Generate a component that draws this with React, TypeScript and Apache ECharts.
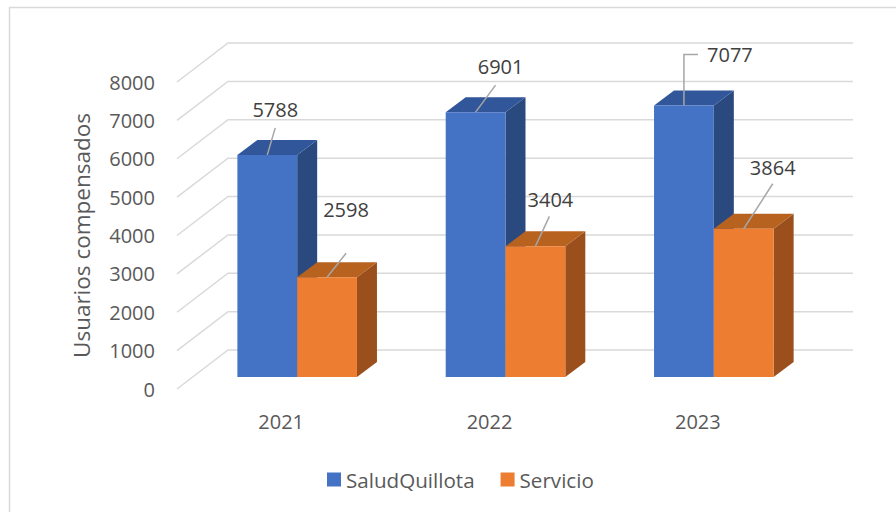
import React, { useEffect, useRef } from "react";
import * as echarts from "echarts";

const categories = ["2021", "2022", "2023"];
const seriesNames = ["SaludQuillota", "Servicio"];
const saludQuillota = [5788, 6901, 7077];
const servicio = [2598, 3404, 3864];
const yTicks = [0, 1000, 2000, 3000, 4000, 5000, 6000, 7000, 8000];

// layout: label centre offsets and leader line points relative to bar front-top centre
const labelLayout = [
  [
    { label: [8, -45], line: [[0, 0], [8, -27]] },
    { label: [25, -46], line: [[0, 0], [20, -27]] },
    { label: [46, -51], line: [[0, 0], [0, -51], [14, -51]] },
  ],
  [
    { label: [19, -68], line: [[0, 0], [19, -24]] },
    { label: [15, -47], line: [[0, 0], [14, -30]] },
    { label: [29, -61], line: [[0, 0], [29, -45]] },
  ],
];

const FONT = "'Open Sans', 'Noto Sans', sans-serif";
const AXIS_TEXT = "#595959";
const GRID = "#D9D9D9";
// 3D geometry
const WALL_DX = 51, WALL_DY = -39; // front plane -> back wall
const BAR_FX = 16, BAR_FY = -12; // front plane -> bar front face
const BAR_DX = 20, BAR_DY = -15; // bar depth
const BAR_FRAC = 0.287;

const faceColors = [
  { front: "#4472C4", top: "#31569A", side: "#2A4A7F" },
  { front: "#ED7D31", top: "#B8621F", side: "#9A4F1C" },
];

function makeBarSeries(si: number, values: number[]) {
  return {
    type: "custom",
    name: seriesNames[si],
    itemStyle: { color: faceColors[si].front },
    data: values.map((v, i) => [i, v]),
    z: 3 + si,
    renderItem: (params: any, api: any) => {
      const ci = api.value(0);
      const v = api.value(1);
      const p0 = api.coord([ci, 0]);
      const p1 = api.coord([ci, v]);
      const catW = api.size([1, 0])[0];
      const bw = catW * BAR_FRAC;
      const cx = p0[0];
      const xL = cx + BAR_FX + (si === 0 ? -bw : 0);
      const xR = xL + bw;
      const yb = p0[1] + BAR_FY;
      const yt = p1[1] + BAR_FY;
      const c = faceColors[si];
      const lay = labelLayout[si][params.dataIndex];
      const ax = (xL + xR) / 2;
      const ay = yt;
      return {
        type: "group",
        children: [
          {
            type: "polygon",
            shape: { points: [[xR, yt], [xR + BAR_DX, yt + BAR_DY], [xR + BAR_DX, yb + BAR_DY], [xR, yb]] },
            style: { fill: c.side },
          },
          {
            type: "polygon",
            shape: { points: [[xL, yt], [xL + BAR_DX, yt + BAR_DY], [xR + BAR_DX, yt + BAR_DY], [xR, yt]] },
            style: { fill: c.top },
          },
          {
            type: "polygon",
            shape: { points: [[xL, yt], [xR, yt], [xR, yb], [xL, yb]] },
            style: { fill: c.front },
          },
          {
            type: "polyline",
            shape: { points: lay.line.map((p) => [ax + p[0], ay + p[1]]) },
            style: { stroke: "#A6A6A6", lineWidth: 1.5, fill: null },
            z2: 10,
          },
          {
            type: "text",
            style: {
              text: String(v),
              x: ax + lay.label[0],
              y: ay + lay.label[1],
              textAlign: "center",
              textVerticalAlign: "middle",
              fontSize: 20,
              fontFamily: FONT,
              fill: "#404040",
            },
            z2: 10,
          },
        ],
      };
    },
  };
}

export default function App() {
  const ref = useRef<HTMLDivElement>(null);
  useEffect(() => {
    document.body.style.margin = "0";
    const chart = echarts.init(ref.current as HTMLDivElement, null, { renderer: "svg" });
    chart.setOption({
      animation: false,
      backgroundColor: "#ffffff",
      graphic: [
        {
          type: "rect",
          shape: { x: 9.5, y: 7.5, width: 1000, height: 1000 },
          style: { fill: null, stroke: GRID, lineWidth: 1.5 },
          silent: true,
          z: -10,
        },
      ],
      grid: { left: 177, right: 94, top: 82, bottom: 123 },
      legend: {
        data: seriesNames,
        left: 327,
        top: 469,
        padding: 0,
        itemWidth: 14,
        itemHeight: 14,
        itemGap: 26,
        icon: "rect",
        textStyle: { fontSize: 20.6, fontFamily: FONT, color: AXIS_TEXT },
      },
      xAxis: {
        type: "category",
        data: categories,
        axisLine: { show: false },
        axisTick: { show: false },
        axisLabel: { margin: 22, fontSize: 20, fontFamily: FONT, color: AXIS_TEXT },
      },
      yAxis: {
        type: "value",
        min: 0,
        max: 8000,
        interval: 1000,
        name: "Usuarios compensados",
        nameLocation: "middle",
        nameGap: 84,
        nameTextStyle: { fontSize: 22.5, fontFamily: FONT, color: AXIS_TEXT },
        axisLine: { show: false },
        axisTick: { show: false },
        splitLine: { show: false },
        axisLabel: {
          margin: 22,
          fontSize: 20,
          fontFamily: FONT,
          color: AXIS_TEXT,
          formatter: (v: number) => String(v),
        },
      },
      series: [
        {
          type: "custom",
          name: "grid",
          silent: true,
          z: 1,
          data: yTicks.map((t) => [0, t]),
          renderItem: (params: any, api: any) => {
            const y = api.coord([0, api.value(1)])[1];
            const cs = params.coordSys;
            return {
              type: "polyline",
              shape: {
                points: [
                  [cs.x, y],
                  [cs.x + WALL_DX, y + WALL_DY],
                  [cs.x + cs.width + WALL_DX, y + WALL_DY],
                ],
              },
              style: { stroke: GRID, lineWidth: 1.5, fill: null },
            };
          },
        },
        makeBarSeries(0, saludQuillota),
        makeBarSeries(1, servicio),
      ],
    });
    return () => chart.dispose();
  }, []);
  return <div ref={ref} style={{ width: 896, height: 512 }} />;
}
